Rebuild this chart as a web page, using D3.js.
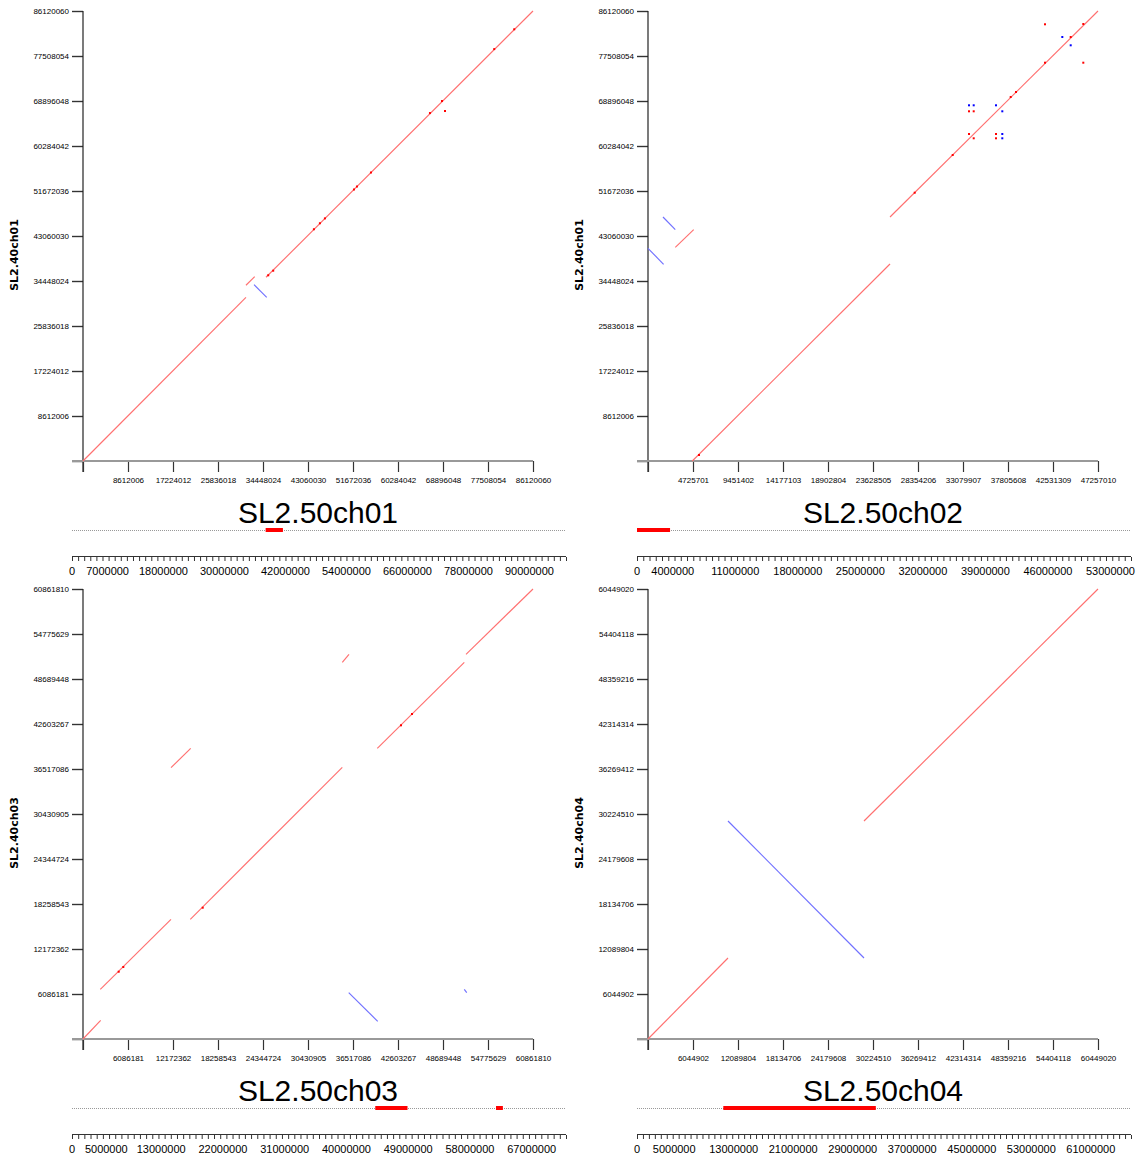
<!DOCTYPE html>
<html>
<head>
<meta charset="utf-8">
<script src="https://cdn.jsdelivr.net/npm/d3@7"></script>
<style>
  html, body { margin: 0; padding: 0; background: #fff; }
  svg { display: block; }
</style>
</head>
<body>
<svg id="chart" width="1137" height="1157"></svg>
<script>
// ---- Chromosome names -------------------------------------------------------
const queryNames = ["SL2.50ch01", "SL2.50ch02", "SL2.50ch03", "SL2.50ch04"];
const refNames   = ["SL2.40ch01", "SL2.40ch01", "SL2.40ch03", "SL2.40ch04"];

// ---- Axis extents (bp) --------------------------------------------------------
const xMax = [86120060, 47257010, 60861810, 60449020];
const yMax = [86120060, 86120060, 60861810, 60449020];

// ---- Axis tick labels ------------------------------------------------------------
const ticksCh01 = [8612006, 17224012, 25836018, 34448024, 43060030, 51672036, 60284042, 68896048, 77508054, 86120060];
const ticksCh02 = [4725701, 9451402, 14177103, 18902804, 23628505, 28354206, 33079907, 37805608, 42531309, 47257010];
const ticksCh03 = [6086181, 12172362, 18258543, 24344724, 30430905, 36517086, 42603267, 48689448, 54775629, 60861810];
const ticksCh04 = [6044902, 12089804, 18134706, 24179608, 30224510, 36269412, 42314314, 48359216, 54404118, 60449020];

// ---- Alignment blocks: [xStart, yStart, xEnd, yEnd, strand] -----------------------
const blocksCh01 = [
  [0, 0, 31190000, 31330000, "+"],
  [31190000, 33630000, 32860000, 35270000, "+"],
  [32730000, 33740000, 35160000, 31330000, "-"],
  [35020000, 35160000, 86120060, 86120060, "+"]
];
const blocksCh02 = [
  [4652000, 0, 25414000, 37701000, "+"],
  [25414000, 46696000, 47257010, 86120060, "+"],
  [0, 40706000, 1638000, 37644000, "-"],
  [1575000, 46696000, 2867000, 44266000, "-"],
  [2867000, 40897000, 4799000, 44266000, "+"]
];
const blocksCh03 = [
  [0, 0, 2390000, 2530000, "+"],
  [2340000, 6722000, 11902000, 16189000, "+"],
  [14512000, 16189000, 35070000, 36747000, "+"],
  [11902000, 36693000, 14566000, 39316000, "+"],
  [35070000, 50948000, 35976000, 52030000, "+"],
  [39803000, 39316000, 51570000, 50948000, "+"],
  [51800000, 52030000, 60861810, 60861810, "+"],
  [35935000, 6262000, 39858000, 2394000, "-"],
  [51570000, 6722000, 51895000, 6262000, "-"]
];
const blocksCh04 = [
  [0, 0, 10746000, 10881000, "+"],
  [10746000, 29284000, 29016000, 10881000, "-"],
  [29016000, 29284000, 60449020, 60449020, "+"]
];

// ---- Short matches drawn as points: [x, y, strand] ---------------------------------
const dotsCh01 = [
  [35450000, 35540000, "+"], [36400000, 36420000, "+"],
  [44190000, 44350000, "+"], [45340000, 45500000, "+"], [46300000, 46430000, "+"],
  [51860000, 51960000, "+"], [52430000, 52530000, "+"], [55110000, 55210000, "+"],
  [66400000, 66590000, "+"], [68700000, 68890000, "+"], [69280000, 66980000, "+"],
  [78700000, 78830000, "+"], [82530000, 82620000, "+"]
];
const dotsCh02 = [
  [41691000, 83575000, "+"], [43509000, 81144000, "-"], [44390000, 81144000, "+"],
  [45713000, 83632000, "+"], [44390000, 79556000, "-"], [45713000, 76226000, "+"],
  [41691000, 76226000, "+"], [38646000, 70618000, "+"], [38089000, 69662000, "+"],
  [33710000, 68073000, "-"], [34204000, 68073000, "-"], [33710000, 66925000, "+"],
  [34204000, 66925000, "+"], [36546000, 68073000, "-"], [37207000, 66925000, "-"],
  [33710000, 62581000, "+"], [34204000, 61758000, "+"], [36546000, 62581000, "+"],
  [36546000, 61758000, "+"], [37207000, 62581000, "-"], [37207000, 61758000, "-"],
  [31998000, 58562000, "+"], [28008000, 51347000, "+"], [5356000, 1148000, "+"]
];
const dotsCh03 = [
  [4828000, 9102000, "+"], [5450000, 9738000, "+"], [16189000, 17758000, "+"],
  [43009000, 42427000, "+"], [44497000, 43956000, "+"]
];
const dotsCh04 = [];

// ---- Position ruler under each title ----------------------------------------------
const rulerMax   = [97200000, 55300000, 72000000, 66400000];
const rulerStep  = [1200000, 700000, 900000, 800000];
const rulerCh01Labels = [0, 7000000, 18000000, 30000000, 42000000, 54000000, 66000000, 78000000, 90000000];
const rulerCh02Labels = [0, 4000000, 11000000, 18000000, 25000000, 32000000, 39000000, 46000000, 53000000];
const rulerCh03Labels = [0, 5000000, 13000000, 22000000, 31000000, 40000000, 49000000, 58000000, 67000000];
const rulerCh04Labels = [0, 5000000, 13000000, 21000000, 29000000, 37000000, 45000000, 53000000, 61000000];

// highlighted intervals on the ruler track: [start, end]
const highlightCh01 = [[38100000, 41500000]];
const highlightCh02 = [[0, 3700000]];
const highlightCh03 = [[44200000, 48900000], [61800000, 62800000]];
const highlightCh04 = [[11600000, 32100000]];

// ---------------------------------------------------------------------------------
const xTicksAll = [ticksCh01, ticksCh02, ticksCh03, ticksCh04];
const yTicksAll = [ticksCh01, ticksCh01, ticksCh03, ticksCh04];
const blocksAll = [blocksCh01, blocksCh02, blocksCh03, blocksCh04];
const dotsAll = [dotsCh01, dotsCh02, dotsCh03, dotsCh04];
const rulerLabelsAll = [rulerCh01Labels, rulerCh02Labels, rulerCh03Labels, rulerCh04Labels];
const highlightAll = [highlightCh01, highlightCh02, highlightCh03, highlightCh04];

const svg = d3.select("#chart");
const PLOT = 450;
const TICK_FONT = "'Liberation Sans', Arial, sans-serif";
const lineColor = s => (s === "+" ? "#ff7070" : "#7070ff");
const dotColor = s => (s === "+" ? "#ff0000" : "#0000ff");

queryNames.forEach((qName, i) => {
  const col = i % 2, row = Math.floor(i / 2);
  const left = col === 0 ? 83 : 648;     // plot origin x
  const bottom = row === 0 ? 461 : 1039; // plot origin y
  const shift = col === 0 ? 0 : 565;
  const dy = row === 0 ? 0 : 578;

  const x = d3.scaleLinear().domain([0, xMax[i]]).range([left, left + PLOT]);
  const y = d3.scaleLinear().domain([0, yMax[i]]).range([bottom, bottom - PLOT]);

  const g = svg.append("g");

  // y axis
  const yAxis = d3.axisLeft(y).tickValues([0, ...yTicksAll[i]])
    .tickSize(11).tickPadding(3)
    .tickFormat(d => (d === 0 ? "" : d));
  const gy = g.append("g").attr("transform", `translate(${left},0)`).call(yAxis);
  gy.select(".domain").remove();
  gy.selectAll(".tick line").attr("stroke", "#333").attr("stroke-width", 1.4);
  gy.selectAll(".tick text").attr("font-family", TICK_FONT).attr("font-size", 8).attr("fill", "#000");
  g.append("line")
    .attr("x1", left).attr("x2", left)
    .attr("y1", bottom - PLOT).attr("y2", bottom + 11)
    .attr("stroke", "#222").attr("stroke-width", 1.2);

  // x axis
  const xAxis = d3.axisBottom(x).tickValues([0, ...xTicksAll[i]])
    .tickSize(11).tickPadding(5)
    .tickFormat(d => (d === 0 ? "" : d));
  const gx = g.append("g").attr("transform", `translate(0,${bottom})`).call(xAxis);
  gx.select(".domain").remove();
  gx.selectAll(".tick line").attr("stroke", "#333").attr("stroke-width", 1.2);
  gx.selectAll(".tick text").attr("font-family", TICK_FONT).attr("font-size", 8).attr("fill", "#000");
  g.append("line")
    .attr("x1", left - 11).attr("x2", left + PLOT)
    .attr("y1", bottom).attr("y2", bottom)
    .attr("stroke", "#999").attr("stroke-width", 2);

  // y axis title
  g.append("text")
    .attr("transform", `translate(${15 + shift},${255 + dy}) rotate(-90)`)
    .attr("text-anchor", "middle")
    .attr("dominant-baseline", "middle")
    .attr("font-family", "'DejaVu Sans', sans-serif")
    .attr("font-weight", "bold")
    .attr("font-size", 11)
    .text(refNames[i]);

  // alignment blocks (stroke slightly above 1px so the rasteriser uses the normal path filler)
  g.append("g").selectAll("path").data(blocksAll[i]).join("path")
    .attr("d", d => `M${x(d[0])},${y(d[1])}L${x(d[2])},${y(d[3])}`)
    .attr("fill", "none")
    .attr("stroke", d => lineColor(d[4]))
    .attr("stroke-width", 1.15);

  // short matches
  g.append("g").selectAll("rect").data(dotsAll[i]).join("rect")
    .attr("x", d => x(d[0]) - 1).attr("y", d => y(d[1]) - 1)
    .attr("width", 2).attr("height", 2)
    .attr("fill", d => dotColor(d[2]));

  // title
  g.append("text")
    .attr("x", 318 + shift).attr("y", 523 + dy)
    .attr("text-anchor", "middle")
    .attr("font-family", "'Liberation Sans', Arial, sans-serif")
    .attr("font-size", 30)
    .attr("fill", "#000")
    .text(qName);

  // ruler
  const rLeft = 72 + shift;
  const r = d3.scaleLinear().domain([0, rulerMax[i]]).range([rLeft, rLeft + 494]);

  g.append("line")
    .attr("x1", rLeft).attr("x2", rLeft + 494)
    .attr("y1", 530.5 + dy).attr("y2", 530.5 + dy)
    .attr("stroke", "#999").attr("stroke-width", 1)
    .attr("stroke-dasharray", "1,1");

  g.append("g").selectAll("rect").data(highlightAll[i]).join("rect")
    .attr("x", d => r(d[0])).attr("y", 528 + dy)
    .attr("width", d => r(d[1]) - r(d[0])).attr("height", 4)
    .attr("fill", "#ff0000");

  const rAxis = d3.axisBottom(r)
    .tickValues(d3.range(0, rulerMax[i] + 1, rulerStep[i]))
    .tickSize(-4).tickFormat("");
  const gr = g.append("g").attr("transform", `translate(0,${561 + dy})`).call(rAxis);
  gr.select(".domain").remove();
  gr.selectAll(".tick line").attr("stroke", "#333");
  g.append("line")
    .attr("x1", rLeft).attr("x2", rLeft + 494)
    .attr("y1", 556.5 + dy).attr("y2", 556.5 + dy)
    .attr("stroke", "#333").attr("stroke-width", 1);

  g.append("g").selectAll("text").data(rulerLabelsAll[i]).join("text")
    .attr("x", d => r(d)).attr("y", 575 + dy)
    .attr("text-anchor", "middle")
    .attr("font-family", "'Liberation Sans', Arial, sans-serif")
    .attr("font-size", 11)
    .attr("fill", "#000")
    .text(d => d);
});
</script>
</body>
</html>
